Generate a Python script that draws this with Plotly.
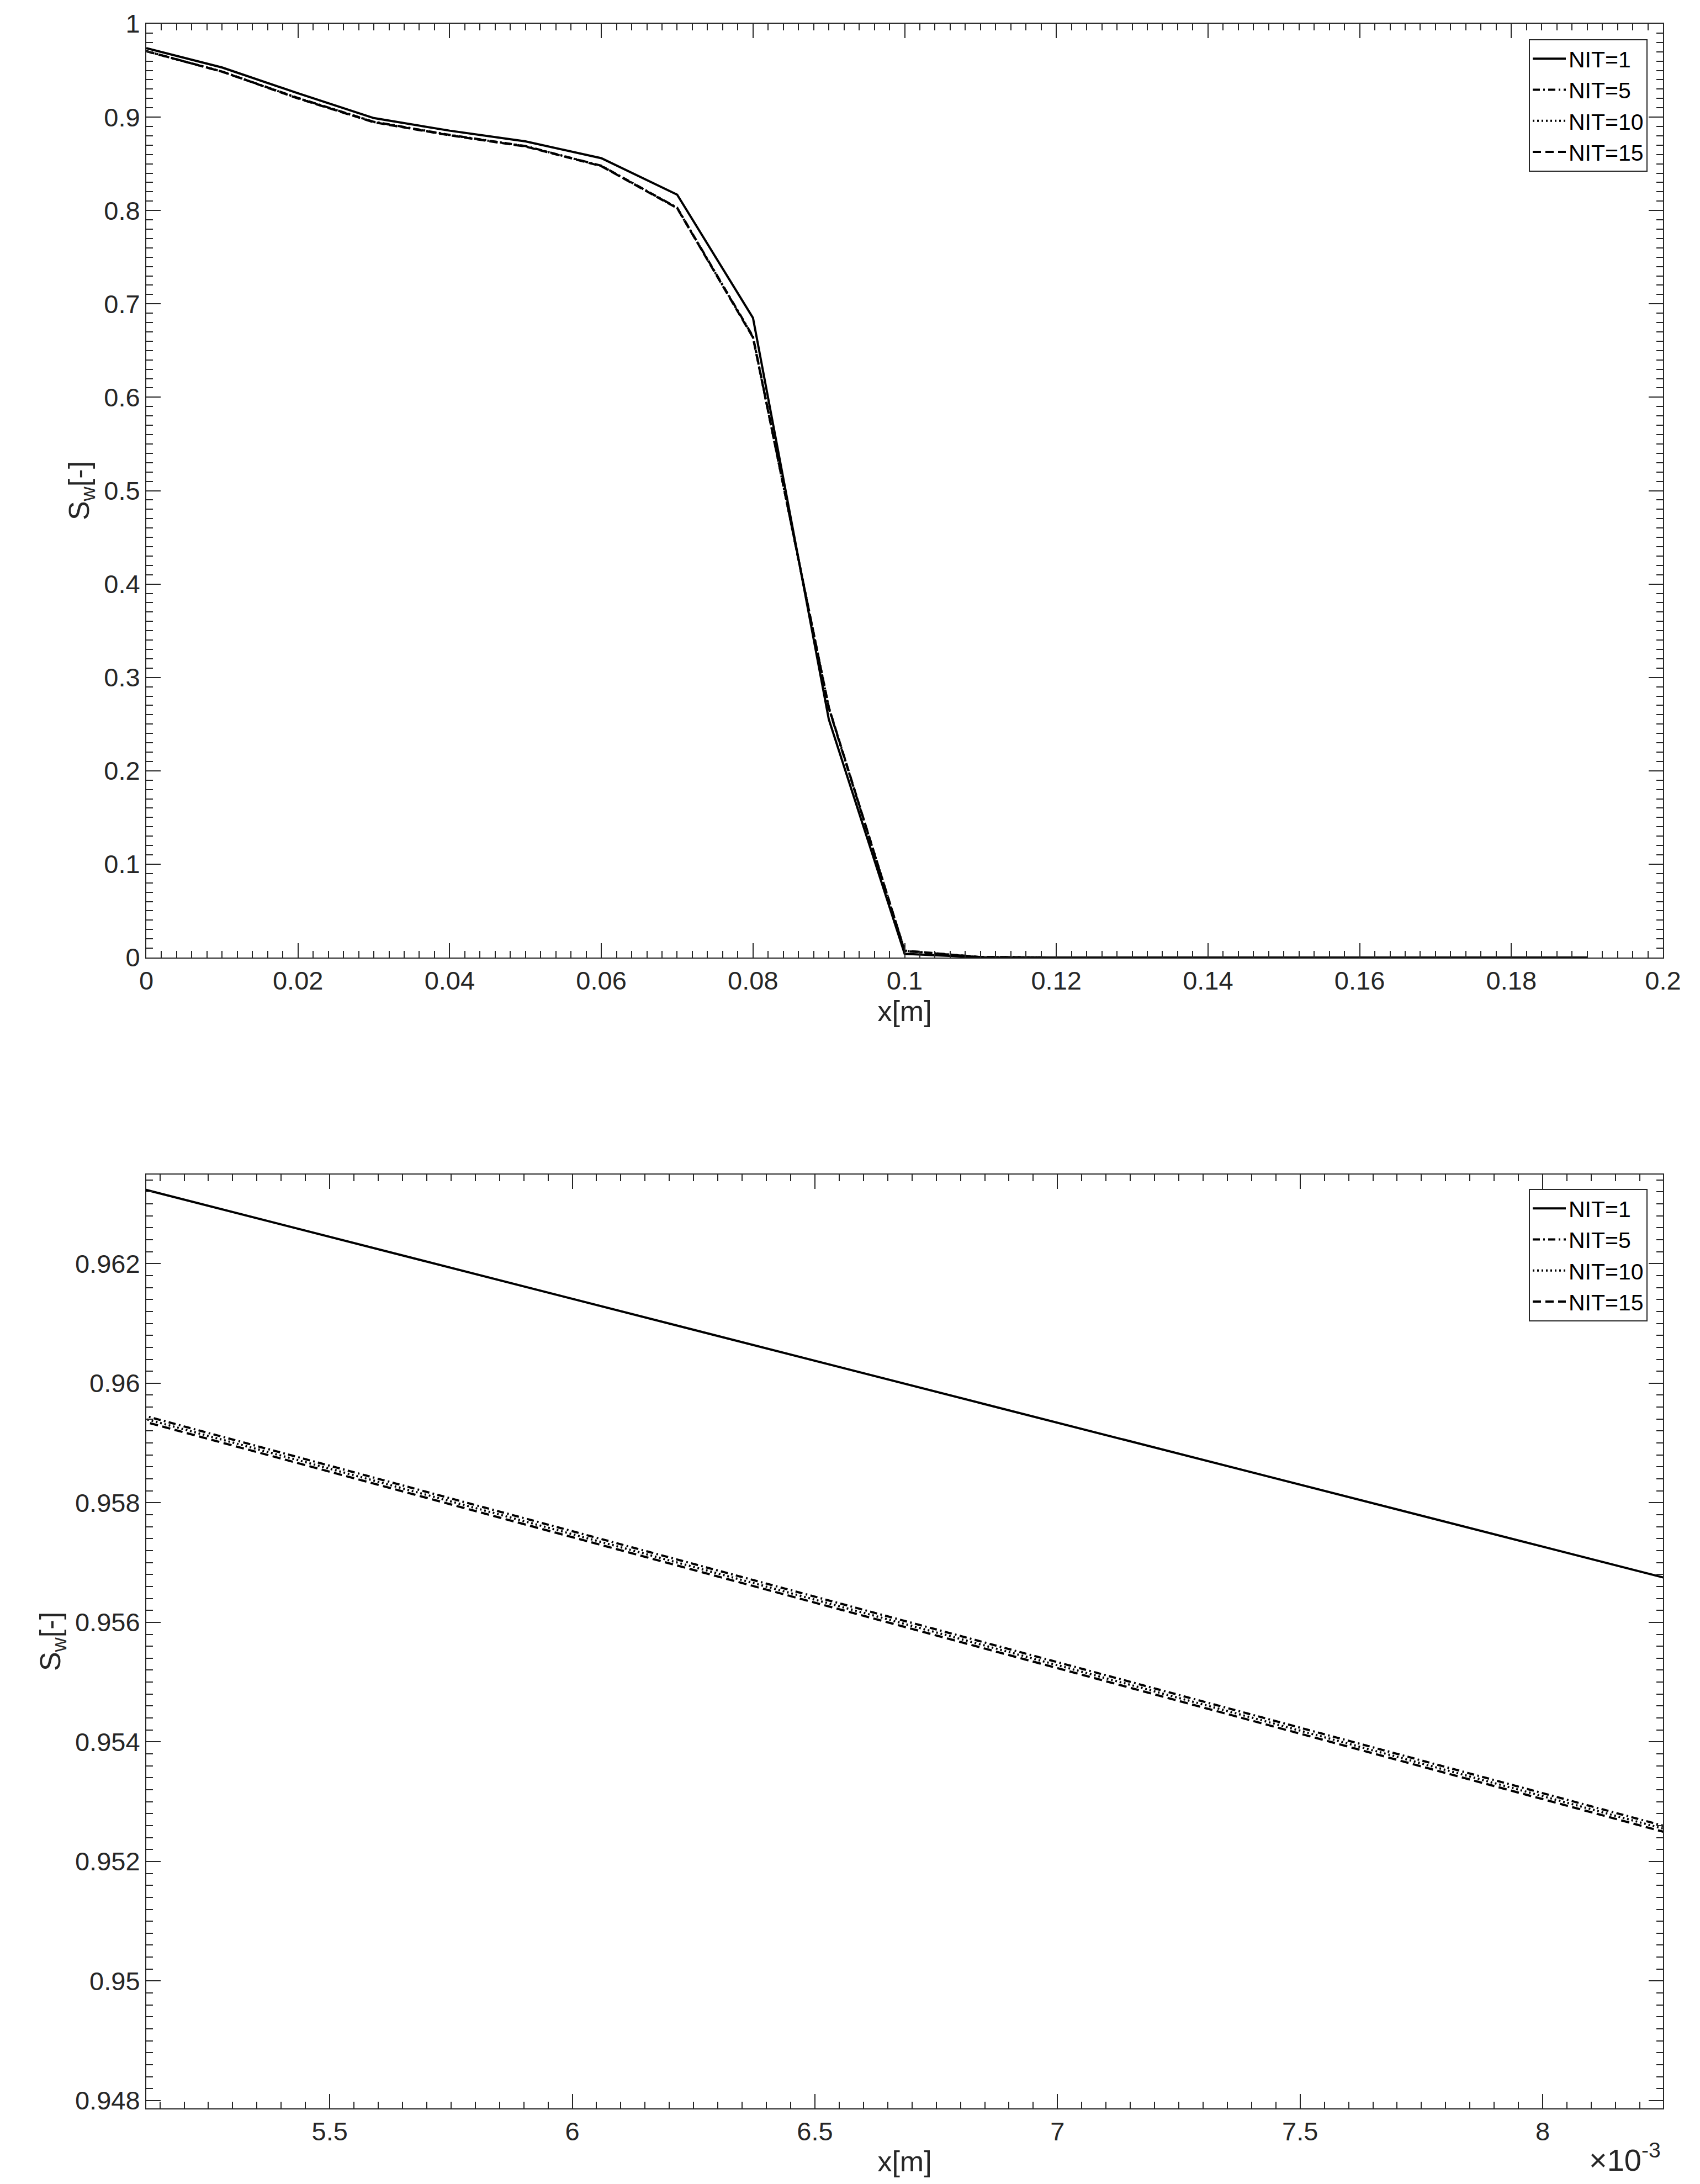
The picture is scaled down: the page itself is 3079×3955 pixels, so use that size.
import plotly.graph_objects as go

# ---------------- data ----------------
x_m = [0.00, 0.01, 0.02, 0.03, 0.04, 0.05, 0.06, 0.07, 0.08, 0.09,
       0.10, 0.11, 0.12, 0.13, 0.14, 0.15, 0.16, 0.17, 0.18, 0.19]
sw_nit1 = [0.97385, 0.95312, 0.9255, 0.8990, 0.8855, 0.8740, 0.8560, 0.8170, 0.6850, 0.2550,
           0.0040, 0.0002, 0, 0, 0, 0, 0, 0, 0, 0]
sw_nit5 = [0.97067, 0.94876, 0.9205, 0.8950, 0.8810, 0.8690, 0.8480, 0.8030, 0.6650, 0.2670,
           0.0070, 0.0004, 0, 0, 0, 0, 0, 0, 0, 0]
sw_nit10 = [0.97062, 0.94871, 0.9203, 0.8948, 0.8808, 0.8688, 0.8478, 0.8027, 0.6645, 0.2675,
            0.0072, 0.0004, 0, 0, 0, 0, 0, 0, 0, 0]
sw_nit15 = [0.97057, 0.94866, 0.9200, 0.8945, 0.8805, 0.8685, 0.8475, 0.8025, 0.6640, 0.2680,
            0.0074, 0.0005, 0, 0, 0, 0, 0, 0, 0, 0]

series_names = ["NIT=1", "NIT=5", "NIT=10", "NIT=15"]

top_xticks = [0, 0.02, 0.04, 0.06, 0.08, 0.10, 0.12, 0.14, 0.16, 0.18, 0.20]
top_xticktext = ["0", "0.02", "0.04", "0.06", "0.08", "0.1", "0.12", "0.14", "0.16", "0.18", "0.2"]
top_yticks = [0, 0.1, 0.2, 0.3, 0.4, 0.5, 0.6, 0.7, 0.8, 0.9, 1.0]
top_yticktext = ["0", "0.1", "0.2", "0.3", "0.4", "0.5", "0.6", "0.7", "0.8", "0.9", "1"]

bot_xticks = [0.0055, 0.0060, 0.0065, 0.0070, 0.0075, 0.0080]
bot_xticktext = ["5.5", "6", "6.5", "7", "7.5", "8"]
bot_yticks = [0.948, 0.950, 0.952, 0.954, 0.956, 0.958, 0.960, 0.962]
bot_yticktext = ["0.948", "0.95", "0.952", "0.954", "0.956", "0.958", "0.96", "0.962"]

top_xrange = [0, 0.2]
top_yrange = [0, 1]
bot_xrange = [0.005122, 0.008248]
bot_yrange = [0.94787, 0.96349]

# ---------------- style ----------------
W, H = 3079, 3955
FONT = "Liberation Sans, Arial, Helvetica, sans-serif"
AX = "#262626"
dashes = ["solid", "13px,6px,3px,6px", "3px,5px", "15px,8px"]
series = [sw_nit1, sw_nit5, sw_nit10, sw_nit15]

fig = go.Figure()
for panel, (xa, ya, lg) in enumerate([("x", "y", "legend"), ("x2", "y2", "legend2")]):
    for name, ys, d in zip(series_names, series, dashes):
        fig.add_trace(go.Scatter(
            x=x_m, y=ys, mode="lines", name=name,
            line=dict(color="black", width=4, dash=d),
            xaxis=xa, yaxis=ya, legend=lg, showlegend=True,
        ))

xdom = [265 / W, 3012 / W]
top_dom = [1 - 1734 / H, 1 - 43 / H]
bot_dom = [1 - 3818 / H, 1 - 2127 / H]


def axis(rng, dom, tv, tt, minor_dtick, title, anchor, standoff):
    return dict(
        range=rng, domain=dom, anchor=anchor,
        tickmode="array", tickvals=tv, ticktext=tt,
        ticks="inside", ticklen=26, tickwidth=2, tickcolor=AX,
        showline=True, linecolor=AX, linewidth=2, mirror="allticks",
        showgrid=False, zeroline=False,
        tickfont=dict(family=FONT, size=47, color=AX),
        minor=dict(ticks="inside", ticklen=12, tickwidth=2, tickcolor=AX,
                   dtick=minor_dtick, tick0=0, showgrid=False),
        title=dict(text=title, font=dict(family=FONT, size=52, color=AX), standoff=standoff),
        automargin=False,
    )


legend_style = dict(xanchor="right", yanchor="top",
                    bgcolor="white", bordercolor=AX, borderwidth=2,
                    font=dict(family=FONT, size=41, color="black"),
                    tracegroupgap=0, itemwidth=60)

fig.update_layout(
    width=W, height=H,
    margin=dict(l=0, r=0, t=0, b=0),
    paper_bgcolor="white", plot_bgcolor="white",
    showlegend=True,
    xaxis=axis(top_xrange, xdom, top_xticks, top_xticktext, 0.002, "x[m]", "y", 10),
    yaxis=axis(top_yrange, top_dom, top_yticks, top_yticktext, 0.01, "S<sub>w</sub>[-]", "x", 10),
    xaxis2=axis(bot_xrange, xdom, bot_xticks, bot_xticktext, 0.00005, "x[m]", "y2", 10),
    yaxis2=axis(bot_yrange, bot_dom, bot_yticks, bot_yticktext, 0.0002, "S<sub>w</sub>[-]", "x2", 10),
    legend=dict(x=2984 / W, y=1 - 71 / H, **legend_style),
    legend2=dict(x=2984 / W, y=1 - 2153 / H, **legend_style),
    annotations=[dict(text="×10<sup>-3</sup>", x=3010 / W, y=1 - 3945 / H,
                      xref="paper", yref="paper", xanchor="right", yanchor="bottom",
                      showarrow=False, font=dict(family=FONT, size=56, color=AX))],
)

fig.write_html(
    "out.html",
    config={"displayModeBar": False},
    post_script="document.body.style.margin='0';document.body.style.overflow='hidden';",
)
